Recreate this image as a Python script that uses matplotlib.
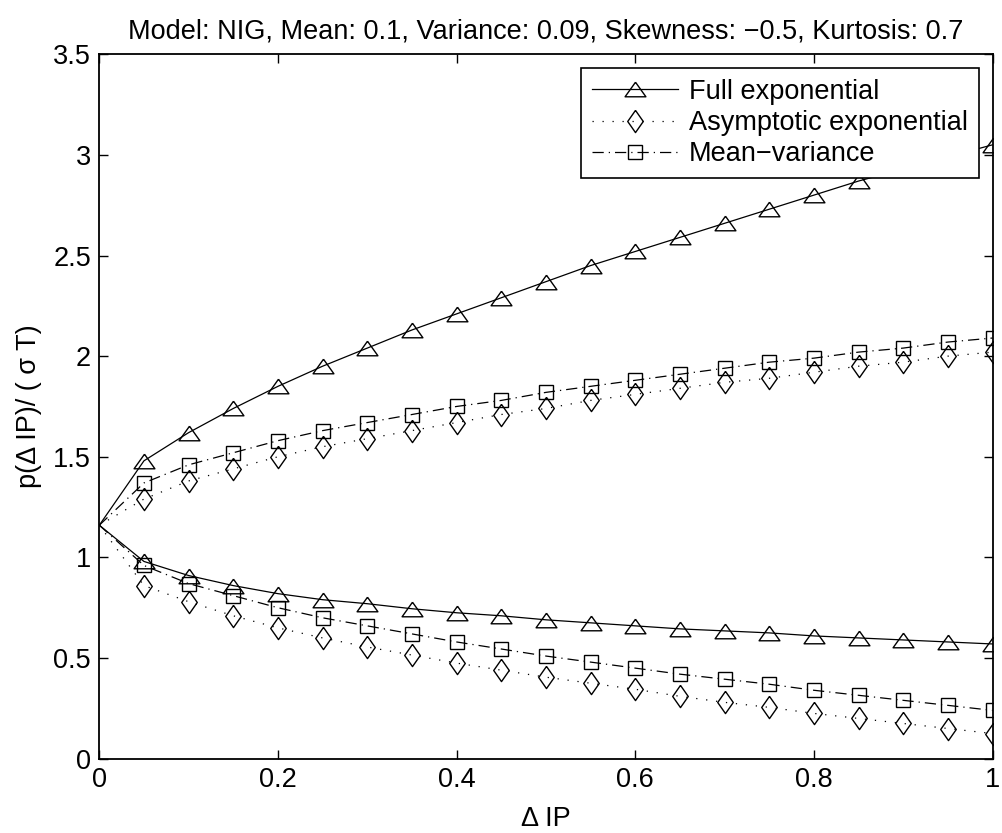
import matplotlib
matplotlib.use('Agg')
import matplotlib.pyplot as plt
import numpy as np

plt.rcParams['font.family'] = ['Liberation Sans', 'DejaVu Sans']

# x grid: 0, 0.05, ..., 1
dip = [0.0, 0.05, 0.1, 0.15, 0.2, 0.25, 0.3, 0.35, 0.4, 0.45, 0.5,
       0.55, 0.6, 0.65, 0.7, 0.75, 0.8, 0.85, 0.9, 0.95, 1.0]

# upper branch
full_up = [1.16, 1.48, 1.62, 1.74, 1.85, 1.95, 2.04, 2.13, 2.21, 2.29, 2.37,
           2.45, 2.52, 2.59, 2.66, 2.73, 2.80, 2.87, 2.93, 2.99, 3.05]
asym_up = [1.16, 1.29, 1.38, 1.44, 1.50, 1.55, 1.59, 1.63, 1.67, 1.71, 1.74,
           1.78, 1.81, 1.84, 1.87, 1.89, 1.92, 1.95, 1.97, 2.00, 2.02]
mv_up = [1.16, 1.37, 1.46, 1.52, 1.58, 1.63, 1.67, 1.71, 1.75, 1.78, 1.82,
         1.85, 1.88, 1.91, 1.94, 1.97, 1.99, 2.02, 2.04, 2.07, 2.09]

# lower branch
full_lo = [1.16, 0.98, 0.91, 0.86, 0.82, 0.79, 0.77, 0.745, 0.725, 0.71, 0.69,
           0.675, 0.66, 0.645, 0.635, 0.625, 0.61, 0.60, 0.59, 0.58, 0.57]
asym_lo = [1.16, 0.86, 0.78, 0.71, 0.65, 0.60, 0.555, 0.515, 0.475, 0.44, 0.405,
           0.375, 0.345, 0.31, 0.28, 0.255, 0.225, 0.20, 0.175, 0.15, 0.125]
mv_lo = [1.16, 0.96, 0.87, 0.81, 0.75, 0.70, 0.66, 0.62, 0.58, 0.545, 0.51,
         0.48, 0.45, 0.42, 0.395, 0.37, 0.34, 0.315, 0.29, 0.265, 0.24]

labels = ['Full exponential', 'Asymptotic exponential', 'Mean\u2212variance']

# matlab-ish flat triangle and diamond
tri = [(0, 0.7), (-1, -0.7), (1, -0.7), (0, 0.7)]
dia = [(0, 1), (0.7, 0), (0, -1), (-0.7, 0), (0, 1)]

fs = 19.5

fig = plt.figure(figsize=(10.03, 8.33), dpi=100)
ax = fig.add_axes([0.099, 0.0892, 0.8906, 0.8457])

styles = [
    dict(ls='-', marker=tri, ms=15),
    dict(ls=(0, (1, 7)), marker=dia, ms=16),
    dict(ls=(0, (9, 4, 1, 4)), marker='s', ms=10),
]
series = [(full_up, full_lo), (asym_up, asym_lo), (mv_up, mv_lo)]

for (up, lo), st, lab in zip(series, styles, labels):
    kw = dict(color='black', lw=0.9, mfc='none', mec='black', mew=1.0,
              markevery=slice(1, None))
    kw.update(st)
    ax.plot(dip, up, label=lab, **kw)
    ax.plot(dip, lo, **kw)

ax.set_xlim(0, 1)
ax.set_ylim(0, 3.5)
ax.set_xticks([0, 0.2, 0.4, 0.6, 0.8, 1])
ax.set_xticklabels(['0', '0.2', '0.4', '0.6', '0.8', '1'])
ax.set_yticks(np.arange(0, 3.51, 0.5))
ax.set_yticklabels(['0', '0.5', '1', '1.5', '2', '2.5', '3', '3.5'])
ax.tick_params(direction='in', top=True, right=True, length=6.5, width=1,
               labelsize=fs)
ax.tick_params(axis='x', pad=6)
ax.tick_params(axis='y', pad=6)
for sp in ax.spines.values():
    sp.set_linewidth(1.3)

ax.set_xlabel('\u0394 IP', fontsize=fs, labelpad=9)
ax.set_ylabel('p(\u0394 IP)/ ( \u03c3 T)', fontsize=fs, labelpad=8)
ax.set_title('Model: NIG, Mean: 0.1, Variance: 0.09, Skewness: \u22120.5, Kurtosis: 0.7',
             fontsize=fs, pad=11)

leg = ax.legend(loc='upper right', fontsize=fs, frameon=True, fancybox=False,
                edgecolor='black', framealpha=1, handlelength=3.2,
                handletextpad=0.4, borderaxespad=0.5, labelspacing=0.2,
                borderpad=0.4)
leg.get_frame().set_linewidth(1.2)

fig.savefig('out.png', dpi=100)
